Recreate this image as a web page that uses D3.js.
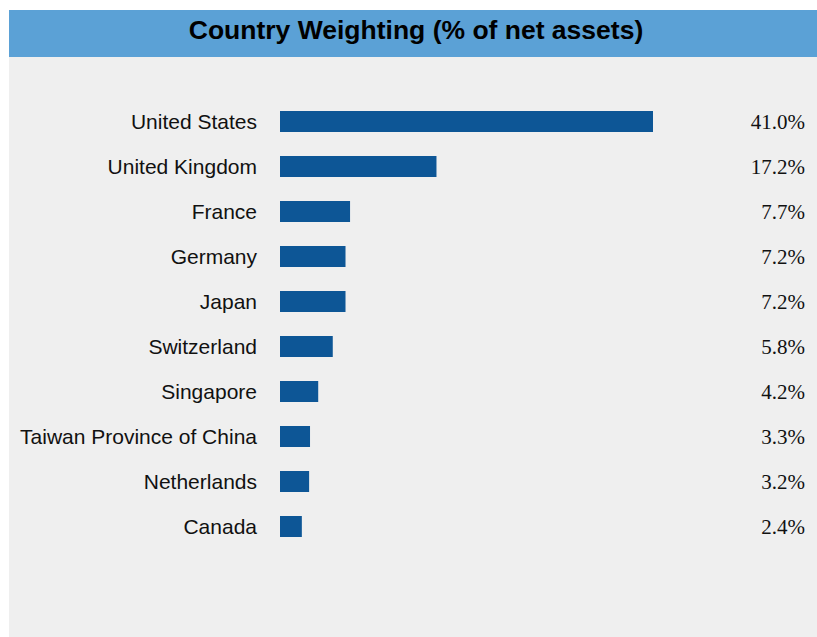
<!DOCTYPE html>
<html>
<head>
<meta charset="utf-8">
<script src="https://cdn.jsdelivr.net/npm/d3@7"></script>
<style>
  body { margin: 0; background: #fff; }
</style>
</head>
<body>
<svg id="chart"></svg>
<script>
const countries = ["United States", "United Kingdom", "France", "Germany", "Japan",
    "Switzerland", "Singapore", "Taiwan Province of China", "Netherlands", "Canada"];
const weights = [41.0, 17.2, 7.7, 7.2, 7.2, 5.8, 4.2, 3.3, 3.2, 2.4];
const titleText = "Country Weighting (% of net assets)";

const W = 817, H = 637;
const svg = d3.select("#chart").attr("width", W).attr("height", H);

// grey panel + blue title strip
svg.append("rect").attr("x", 9).attr("y", 10).attr("width", W - 9).attr("height", H - 10)
    .attr("fill", "#efefef");
svg.append("rect").attr("x", 9).attr("y", 10).attr("width", W - 9).attr("height", 47)
    .attr("fill", "#5ba1d6");
svg.append("text")
    .attr("x", 416).attr("y", 39)
    .attr("text-anchor", "middle")
    .attr("font-family", "Liberation Sans, Arial, sans-serif")
    .attr("font-weight", "bold")
    .attr("font-size", "26.5px")
    .attr("fill", "#000")
    .text(titleText);

const data = countries.map((c, i) => ({ country: c, value: weights[i] }));

const x = d3.scaleLinear().domain([0, 41]).range([280, 653]);
const y = d3.scaleBand().domain(countries).range([99, 549])
    .paddingInner(24 / 45).paddingOuter(12 / 45);

const rows = svg.selectAll(".row").data(data).enter().append("g").attr("class", "row");

rows.append("rect")
    .attr("x", x(0))
    .attr("y", d => y(d.country))
    .attr("width", d => x(d.value) - x(0))
    .attr("height", y.bandwidth())
    .attr("fill", "#0d5696");

rows.append("text")
    .attr("x", 257)
    .attr("y", d => y(d.country) + y.bandwidth() / 2 + 7.5)
    .attr("text-anchor", "end")
    .attr("font-family", "Liberation Sans, Arial, sans-serif")
    .attr("font-size", "21px")
    .attr("fill", "#111")
    .text(d => d.country);

rows.append("text")
    .attr("x", 805)
    .attr("y", d => y(d.country) + y.bandwidth() / 2 + 7.5)
    .attr("text-anchor", "end")
    .attr("font-family", "Liberation Serif, Times New Roman, serif")
    .attr("font-size", "21px")
    .attr("fill", "#111")
    .text(d => d.value.toFixed(1) + "%");
</script>
</body>
</html>
